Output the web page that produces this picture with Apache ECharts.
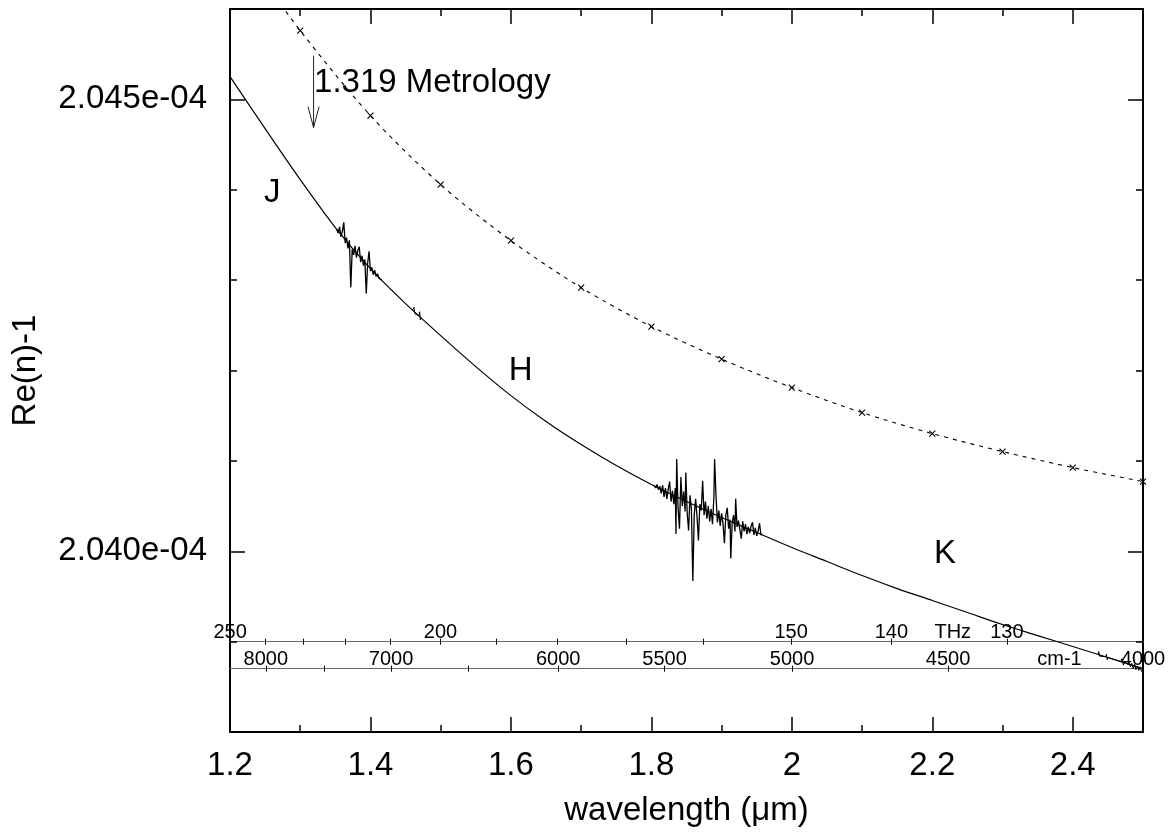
<!DOCTYPE html>
<html>
<head>
<meta charset="utf-8">
<title>Re(n)-1 vs wavelength</title>
<script src="https://cdn.jsdelivr.net/npm/echarts@6/dist/echarts.min.js"></script>
<style>
    html, body { margin: 0; padding: 0; background: #fff; }
    #chart { width: 1169px; height: 834px; }
</style>
</head>
<body>
<div id="chart"></div>
<script>
// 光速, um * THz
var C_LIGHT = 299.792458;

// 坐标范围
var xMin = 1.2, xMax = 2.5;
var yMin = 2.038e-4, yMax = 2.046e-4;

// 刻度
var xMajorTicks = [1.2, 1.4, 1.6, 1.8, 2.0, 2.2, 2.4];
var xMinorTicks = [1.2, 1.3, 1.4, 1.5, 1.6, 1.7, 1.8, 1.9, 2.0, 2.1, 2.2, 2.3, 2.4, 2.5];
var yMajorTicks = [2.040e-4, 2.045e-4];
var yMinorTicks = [2.038e-4, 2.039e-4, 2.040e-4, 2.041e-4, 2.042e-4, 2.043e-4, 2.044e-4, 2.045e-4, 2.046e-4];

// 频率刻度 (THz) 和波数刻度 (cm-1)
var thzTicks = [250, 240, 230, 220, 210, 200, 190, 180, 170, 160, 150, 140, 130, 120];
var thzLabels = [250, 200, 150, 140, 130];
var thzUnitAt = 134.5;
var cmTicks = [8000, 7500, 7000, 6500, 6000, 5500, 5000, 4500, 4000];
var cmLabels = [8000, 7000, 6000, 5500, 5000, 4500, 4000];
var cmUnitAt = 4200;

// 实线 (模型曲线)
var curveWl = [1.20, 1.25, 1.30, 1.35, 1.40, 1.45, 1.50, 1.55, 1.60, 1.65, 1.70, 1.75, 1.80, 1.85,
    1.90, 1.95, 2.00, 2.05, 2.10, 2.15, 2.20, 2.25, 2.30, 2.35, 2.40, 2.45, 2.50];
var curveN = [2.045251e-4, 2.044676e-4, 2.044112e-4, 2.043581e-4, 2.043127e-4, 2.042740e-4, 2.042386e-4,
    2.042043e-4, 2.041722e-4, 2.041435e-4, 2.041180e-4, 2.040948e-4, 2.040738e-4, 2.040550e-4,
    2.040373e-4, 2.040207e-4, 2.040041e-4, 2.039886e-4, 2.039731e-4, 2.039587e-4, 2.039455e-4,
    2.039322e-4, 2.039189e-4, 2.039067e-4, 2.038946e-4, 2.038824e-4, 2.038702e-4];

// J 波段测量噪声
var jNoiseWl = [1.352, 1.354, 1.356, 1.358, 1.360, 1.362, 1.364, 1.366, 1.368, 1.370, 1.372, 1.374,
    1.376, 1.378, 1.380, 1.382, 1.384, 1.386, 1.388, 1.390, 1.392, 1.394, 1.396, 1.398, 1.400, 1.402,
    1.404, 1.406, 1.408, 1.410, 1.412, 1.414, 1.416];
var jNoiseN = [2.04356e-4, 2.04352e-4, 2.04359e-4, 2.04348e-4, 2.04354e-4, 2.04364e-4, 2.04341e-4,
    2.04347e-4, 2.04335e-4, 2.04344e-4, 2.04292e-4, 2.04334e-4, 2.04328e-4, 2.04338e-4, 2.04325e-4,
    2.04333e-4, 2.04337e-4, 2.04320e-4, 2.04327e-4, 2.04316e-4, 2.04323e-4, 2.04285e-4, 2.04319e-4,
    2.04332e-4, 2.04310e-4, 2.04314e-4, 2.04306e-4, 2.04311e-4, 2.04304e-4, 2.04307e-4, 2.04302e-4,
    2.04303e-4, 2.04300e-4];

// 1.47 附近的小毛刺
var midNoiseWl = [1.460, 1.461, 1.462, 1.463, 1.464, 1.469, 1.470, 1.471, 1.472];
var midNoiseN = [2.042669e-4, 2.04267e-4, 2.04270e-4, 2.04263e-4, 2.042641e-4, 2.042605e-4, 2.04265e-4,
    2.04256e-4, 2.042584e-4];

// H-K 之间的测量噪声
var hkNoiseWl = [1.804, 1.806, 1.808, 1.810, 1.812, 1.814, 1.816, 1.818, 1.820, 1.822, 1.824, 1.826,
    1.828, 1.830, 1.832, 1.834, 1.835, 1.836, 1.838, 1.840, 1.842, 1.844, 1.846, 1.848, 1.849, 1.851,
    1.853, 1.855, 1.857, 1.859, 1.861, 1.863, 1.865, 1.867, 1.869, 1.871, 1.873, 1.875, 1.877, 1.879,
    1.881, 1.883, 1.885, 1.887, 1.889, 1.890, 1.892, 1.894, 1.896, 1.898, 1.900, 1.902, 1.904, 1.906,
    1.908, 1.910, 1.912, 1.913, 1.915, 1.917, 1.919, 1.920, 1.922, 1.924, 1.926, 1.928, 1.930, 1.932,
    1.934, 1.936, 1.938, 1.940, 1.942, 1.944, 1.946, 1.948, 1.950, 1.952, 1.954, 1.956, 1.958];
var hkNoiseN = [2.04073e-4, 2.04070e-4, 2.04074e-4, 2.04068e-4, 2.04072e-4, 2.04064e-4, 2.04073e-4,
    2.04060e-4, 2.04070e-4, 2.04058e-4, 2.04069e-4, 2.04077e-4, 2.04055e-4, 2.04067e-4, 2.04052e-4,
    2.04070e-4, 2.04019e-4, 2.04102e-4, 2.04048e-4, 2.04025e-4, 2.04082e-4, 2.04050e-4, 2.04066e-4,
    2.04044e-4, 2.04087e-4, 2.04042e-4, 2.04023e-4, 2.04062e-4, 2.04047e-4, 2.03967e-4, 2.04040e-4,
    2.04058e-4, 2.04038e-4, 2.04012e-4, 2.04052e-4, 2.04045e-4, 2.04078e-4, 2.04040e-4, 2.04055e-4,
    2.04036e-4, 2.04050e-4, 2.04033e-4, 2.04047e-4, 2.04030e-4, 2.04060e-4, 2.04102e-4, 2.04062e-4,
    2.04032e-4, 2.04045e-4, 2.04028e-4, 2.04042e-4, 2.04030e-4, 2.04009e-4, 2.04040e-4, 2.04048e-4,
    2.04025e-4, 2.04035e-4, 2.03992e-4, 2.04031e-4, 2.04040e-4, 2.04022e-4, 2.04058e-4, 2.04027e-4,
    2.04034e-4, 2.04024e-4, 2.04014e-4, 2.04033e-4, 2.04022e-4, 2.04030e-4, 2.04019e-4, 2.04027e-4,
    2.04020e-4, 2.04028e-4, 2.04032e-4, 2.04018e-4, 2.04026e-4, 2.04017e-4, 2.04022e-4, 2.04031e-4,
    2.04018e-4, 2.04019e-4];

// K 末端的小毛刺
var endNoiseWl = [2.436, 2.437, 2.438, 2.439, 2.447, 2.448, 2.449, 2.450, 2.468, 2.470, 2.472, 2.474,
    2.478, 2.480, 2.482, 2.484, 2.486, 2.488, 2.490, 2.492, 2.494, 2.496, 2.498, 2.500];
var endNoiseN = [2.038858e-4, 2.03889e-4, 2.03884e-4, 2.038853e-4, 2.038834e-4, 2.03886e-4, 2.03880e-4,
    2.038824e-4, 2.03878e-4, 2.03881e-4, 2.03874e-4, 2.038778e-4, 2.03875e-4, 2.03878e-4, 2.03872e-4,
    2.03876e-4, 2.03870e-4, 2.03875e-4, 2.03869e-4, 2.03873e-4, 2.03868e-4, 2.03872e-4, 2.03867e-4,
    2.038702e-4];

// 虚线 + 叉号 (对比数据)
var markWl = [1.3, 1.4, 1.5, 1.6, 1.7, 1.8, 1.9, 2.0, 2.1, 2.2, 2.3, 2.4, 2.5];
var markN = [2.045760e-4, 2.044820e-4, 2.044056e-4, 2.043437e-4, 2.042917e-4, 2.042486e-4, 2.042126e-4,
    2.041811e-4, 2.041534e-4, 2.041302e-4, 2.041103e-4, 2.040926e-4, 2.040771e-4];
var dashLeadWl = 1.25, dashLeadN = 2.04630e-4;

// 1.319 um 箭头
var metroWl = 1.319;
var metroText = '1.319 Metrology';
var arrowTopN = 2.045483e-4, arrowTipN = 2.044687e-4, arrowHeadN = 2.044919e-4, arrowHalfW = 0.0078;
var metroTextN = 2.045185e-4;

// 波段标注
var bandNames = ['J', 'H', 'K'];
var bandWl = [1.260, 1.614, 2.218];
var bandN = [2.043968e-4, 2.041999e-4, 2.039975e-4];

var FONT = 'Liberation Sans, Arial, Helvetica, sans-serif';

function pairs(xs, ys) {
    var out = [];
    for (var i = 0; i < xs.length; i++) {
        out.push([xs[i], ys[i]]);
    }
    return out;
}

function near(a, b) {
    return Math.abs(a - b) < 1e-9;
}

// 只画刻度的坐标轴
function tickAxis(dim, pos, ticks, len, inside, offset) {
    var ax = {
        type: 'value',
        position: pos,
        offset: offset || 0,
        min: dim === 'x' ? xMin : yMin,
        max: dim === 'x' ? xMax : yMax,
        axisLine: { show: false, onZero: false },
        axisTick: {
            show: true,
            inside: inside,
            length: len,
            customValues: ticks,
            lineStyle: { color: '#000', width: 1.5 }
        },
        axisLabel: { show: false },
        splitLine: { show: false },
        silent: true
    };
    return ax;
}

function frameAxis(dim, pos) {
    var ax = tickAxis(dim, pos, dim === 'x' ? xMajorTicks : yMajorTicks, 15, true);
    ax.axisLine = { show: true, onZero: false, lineStyle: { color: '#000', width: 2 } };
    return ax;
}

// 底部主轴
var xBottom = frameAxis('x', 'bottom');
xBottom.axisLabel = {
    show: true,
    customValues: xMajorTicks,
    margin: 17,
    fontSize: 33,
    fontFamily: FONT,
    color: '#000',
    formatter: function (v) {
        return String(Number(v.toFixed(1)));
    }
};
xBottom.name = 'wavelength (\u03bcm)';
xBottom.nameLocation = 'middle';
xBottom.nameGap = 62;
xBottom.nameTextStyle = { fontSize: 33, fontFamily: FONT, color: '#000' };

// 左侧主轴
var yLeft = frameAxis('y', 'left');
yLeft.axisLabel = {
    show: true,
    customValues: yMajorTicks,
    margin: 23,
    fontSize: 33,
    fontFamily: FONT,
    color: '#000',
    formatter: function (v) {
        return (v * 1e4).toFixed(3) + 'e-04';
    }
};
yLeft.name = 'Re(n)-1';
yLeft.nameLocation = 'middle';
yLeft.nameRotate = 90;
yLeft.nameGap = 188;
yLeft.nameTextStyle = { fontSize: 33, fontFamily: FONT, color: '#000' };

// THz / cm-1 辅助轴 (250 THz 略小于 1.2um, 所以左端放宽一点)
var thzLineOffset = -90.3;
var cmLineOffset = -63.3;
var freqMin = 1.199;

function freqAxis(offset, tickWl, labelWl, unitWl, unitName, toFreq) {
    var ax = tickAxis('x', 'bottom', tickWl, 3, true, offset);
    ax.min = freqMin;
    ax.axisLine = { show: true, onZero: false, lineStyle: { color: '#666', width: 1.2 } };
    ax.axisTick.lineStyle = { color: '#000', width: 1 };
    ax.axisLabel = {
        show: true,
        inside: true,
        customValues: labelWl.concat([unitWl]),
        margin: -1,
        fontSize: 20,
        fontFamily: FONT,
        color: '#000',
        formatter: function (v) {
            if (near(v, unitWl)) return unitName;
            return String(Math.round(toFreq(v)));
        }
    };
    return ax;
}

var thzTickWl = thzTicks.map(function (f) { return C_LIGHT / f; });
var thzLabelWl = thzLabels.map(function (f) { return C_LIGHT / f; });
var cmTickWl = cmTicks.map(function (k) { return 1e4 / k; });
var cmLabelWl = cmLabels.map(function (k) { return 1e4 / k; });

var thzAxis = freqAxis(thzLineOffset, thzTickWl, thzLabelWl, C_LIGHT / thzUnitAt, 'THz',
    function (v) { return C_LIGHT / v; });
var cmAxis = freqAxis(cmLineOffset, cmTickWl, cmLabelWl, 1e4 / cmUnitAt, 'cm-1',
    function (v) { return 1e4 / v; });
var thzAxisDown = tickAxis('x', 'bottom', thzTickWl, 3, false, thzLineOffset);
thzAxisDown.min = freqMin;
thzAxisDown.axisTick.lineStyle = { color: '#000', width: 1 };
var cmAxisDown = tickAxis('x', 'bottom', cmTickWl, 3, false, cmLineOffset);
cmAxisDown.min = freqMin;
cmAxisDown.axisTick.lineStyle = { color: '#000', width: 1 };

function traceSeries(xs, ys, width, smooth) {
    return {
        type: 'line',
        data: pairs(xs, ys),
        symbol: 'none',
        smooth: smooth || false,
        silent: true,
        lineStyle: { color: '#000', width: width },
        z: 3
    };
}

var labelBase = {
    type: 'scatter',
    symbol: 'circle',
    symbolSize: 1,
    silent: true,
    itemStyle: { color: 'rgba(255,255,255,0)', opacity: 1 }
};

var option = {
    animation: false,
    backgroundColor: '#fff',
    textStyle: { fontFamily: FONT },
    grid: { left: 230, top: 9, right: 26, bottom: 102, outerBoundsMode: 'none' },
    xAxis: [
        xBottom,
        tickAxis('x', 'bottom', xMinorTicks, 7, true),
        frameAxis('x', 'top'),
        tickAxis('x', 'top', xMinorTicks, 7, true),
        thzAxis,
        thzAxisDown,
        cmAxis,
        cmAxisDown
    ],
    yAxis: [
        yLeft,
        tickAxis('y', 'left', yMinorTicks, 7, true),
        frameAxis('y', 'right'),
        tickAxis('y', 'right', yMinorTicks, 7, true)
    ],
    series: [
        traceSeries(curveWl, curveN, 1.2, 0.3),
        traceSeries(jNoiseWl, jNoiseN, 1.3),
        traceSeries(midNoiseWl, midNoiseN, 1),
        traceSeries(hkNoiseWl, hkNoiseN, 1.3),
        traceSeries(endNoiseWl, endNoiseN, 1),
        {
            type: 'line',
            data: [[dashLeadWl, dashLeadN]].concat(pairs(markWl, markN)),
            smooth: 0.3,
            symbol: 'none',
            silent: true,
            lineStyle: { color: '#000', width: 1.1, type: [4, 5] }
        },
        {
            type: 'scatter',
            data: pairs(markWl, markN),
            symbol: 'path://M0,0L10,10M10,0L0,10',
            symbolSize: 6,
            silent: true,
            itemStyle: { color: 'rgba(0,0,0,0)', borderColor: '#000', borderWidth: 1.1, opacity: 1 }
        },
        // 箭头杆
        {
            type: 'line',
            data: [[metroWl, arrowTopN], [metroWl, arrowTipN]],
            symbol: 'none',
            silent: true,
            lineStyle: { color: '#222', width: 1 }
        },
        // 箭头
        {
            type: 'line',
            data: [[metroWl - arrowHalfW, arrowHeadN], [metroWl, arrowTipN], [metroWl + arrowHalfW, arrowHeadN]],
            symbol: 'none',
            silent: true,
            lineStyle: { color: '#222', width: 1 }
        },
        Object.assign({}, labelBase, {
            data: [[metroWl, metroTextN]],
            label: {
                show: true,
                position: 'right',
                distance: 0,
                formatter: metroText,
                fontSize: 33,
                fontFamily: FONT,
                color: '#000'
            }
        }),
        Object.assign({}, labelBase, {
            data: pairs(bandWl, bandN),
            label: {
                show: true,
                position: 'inside',
                formatter: function (p) {
                    return bandNames[p.dataIndex];
                },
                fontSize: 33,
                fontFamily: FONT,
                color: '#000'
            }
        })
    ]
};

var myChart = echarts.init(document.getElementById('chart'));
myChart.setOption(option, true);
window.onresize = myChart.resize;
</script>
</body>
</html>
